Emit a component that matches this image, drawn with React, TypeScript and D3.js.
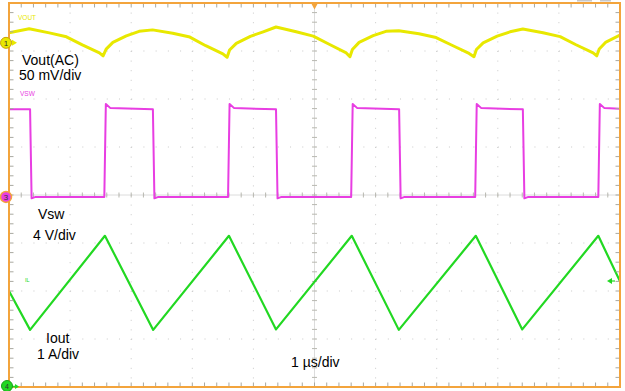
import React from "react";
import * as d3 from "d3";

// ---- Data read from the scope screen ----
// time axis: 1 µs/div, 10 divisions
const timeDomain = [0, 10];

// Vout (AC) in mV, 50 mV/div
const voutT = [
  0, 0.33, 0.66, 0.94, 1.2, 1.48, 1.54, 1.59, 1.7, 1.92, 2.13,
  2.35, 2.68, 2.96, 3.22, 3.5, 3.57, 3.61, 3.72, 3.95, 4.16,
  4.37, 4.7, 4.98, 5.24, 5.52, 5.58, 5.62, 5.73, 5.96, 6.17,
  6.38, 6.71, 6.99, 7.25, 7.53, 7.61, 7.65, 7.76, 7.99, 8.2,
  8.41, 8.74, 9.02, 9.28, 9.56, 9.62, 9.66, 9.77, 10.0,
];
const voutMv = [
  10.4, 14.6, 10.4, 6.3, -2.1, -10.4, -13.5, -6.5, 0.5, 7.3, 12.0,
  13.5, 10.0, 6.0, -3.0, -11.5, -15.0, -7.5, -0.5, 6.8, 11.5,
  16.5, 11.5, 7.0, -1.5, -10.5, -14.5, -7.0, 0.5, 7.5, 12.0,
  12.5, 9.5, 5.5, -2.5, -11.0, -14.5, -7.0, 0.0, 7.0, 11.5,
  14.5, 10.5, 6.5, -2.0, -10.5, -13.5, -6.5, 0.8, 8.0,
];

// Vsw switching node, 4 V/div
const vswFallT = [0.345, 2.355, 4.37, 6.385, 8.41];
const vswRiseT = [1.56, 3.585, 5.6, 7.63, 9.645];
const vswHighStartV = 7.4;
const vswHighEndV = 7.3;
const vswLowV = 0.0;
const vswOvershootV = 7.75;
const vswUndershootV = -0.12;

// Inductor current, 1 A/div
const ilT = [0, 0.345, 1.57, 2.36, 3.6, 4.37, 5.61, 6.38, 7.64, 8.4, 9.645, 10];
const ilA = [2.0, 1.19, 3.15, 1.19, 3.15, 1.2, 3.15, 1.19, 3.15, 1.2, 3.15, 2.2];

// channel settings
const channelNames = ["VOUT", "VSW", "IL"];
const channelPerDiv = [50, 4, 1];
const channelOffsetDiv = [7.17, 3.96, 0];
const channelColors = ["#e8e800", "#e83ee2", "#22d822"];

const labelLines = [
  ["Vout(AC)", "50 mV/div"],
  ["Vsw", "4 V/div"],
  ["Iout", "1 A/div"],
];
const timeLabel = "1 µs/div";

// ---- Layout ----
const W = 625;
const H = 391;
const X0 = 9;
const X1 = 620;
const Y0 = 3;
const Y1 = 387;
const ORANGE = "#f3a43c";

export default function App() {
  const x = d3.scaleLinear().domain(timeDomain).range([X0, X1]);
  const divY = d3.scaleLinear().domain([0, 8]).range([Y1, Y0]);
  const divX = d3.scaleLinear().domain([0, 10]).range([X0, X1]);
  const chScale = (i: number) =>
    d3
      .scaleLinear()
      .domain([-channelOffsetDiv[i] * channelPerDiv[i], (8 - channelOffsetDiv[i]) * channelPerDiv[i]])
      .range([Y1, Y0]);

  const yVout = chScale(0);
  const yVsw = chScale(1);
  const yIl = chScale(2);

  const line = d3.line<[number, number]>();

  const voutPts: [number, number][] = voutT.map((t, i) => [x(t), yVout(voutMv[i])]);

  // build Vsw step trace from edges
  const events = [
    ...vswFallT.map((t) => ({ t, kind: "fall" })),
    ...vswRiseT.map((t) => ({ t, kind: "rise" })),
  ].sort((a, b) => a.t - b.t);
  const vswRaw: [number, number][] = [[0, 7.3]];
  events.forEach((e) => {
    if (e.kind === "fall") {
      vswRaw.push([e.t, vswHighEndV]);
      vswRaw.push([e.t + 0.025, vswUndershootV]);
      vswRaw.push([e.t + 0.09, vswLowV]);
    } else {
      vswRaw.push([e.t, vswLowV]);
      vswRaw.push([e.t + 0.025, vswOvershootV]);
      vswRaw.push([e.t + 0.1, vswHighStartV]);
    }
  });
  vswRaw.push([10, vswHighStartV - 0.05]);
  const vswPts: [number, number][] = vswRaw.map(([t, v]) => [x(t), yVsw(v)]);

  const ilPts: [number, number][] = ilT.map((t, i) => [x(t), yIl(ilA[i])]);

  const majorX = d3.range(0, 11);
  const majorY = d3.range(0, 9);
  const minorX = d3.range(0, 50.001, 1).map((k) => k / 5);
  const minorY = d3.range(0, 40.001, 1).map((k) => k / 5);

  const cx = divX(5);
  const cy = divY(4);

  const markerY = [yVout(0), yVsw(0), yIl(0)];

  return (
    <svg
      width={W}
      height={H}
      style={{ position: "absolute", left: 0, top: 0, background: "#fff" }}
      fontFamily="'Liberation Sans', Arial, sans-serif"
    >
      <defs>
        <clipPath id="plot">
          <rect x={X0} y={Y0} width={X1 - X0} height={Y1 - Y0} />
        </clipPath>
      </defs>
      <rect x={0} y={0} width={W} height={H} fill="#fff" />

      {/* top-right fragments */}
      <rect x={577} y={0} width={15} height={1.5} fill="#c8c8c8" />
      <rect x={600} y={0} width={11} height={1.5} fill="#c8c8c8" />

      {/* dotted grid */}
      {majorX.slice(1, -1).map((d) => (
        <line
          key={"gx" + d}
          x1={divX(d)}
          x2={divX(d)}
          y1={Y0}
          y2={Y1}
          stroke="#c9c9c9"
          strokeWidth={1}
          strokeDasharray={`1 ${48 / 5 - 1}`}
        />
      ))}
      {majorY.slice(1, -1).map((d) => (
        <line
          key={"gy" + d}
          x1={X0}
          x2={X1}
          y1={divY(d)}
          y2={divY(d)}
          stroke="#c9c9c9"
          strokeWidth={1}
          strokeDasharray={`1 ${61.1 / 5 - 1}`}
        />
      ))}

      {/* center cross */}
      <line x1={cx} x2={cx} y1={Y0} y2={Y1} stroke="#dcdcdc" strokeWidth={1} />
      <line x1={X0} x2={X1} y1={cy} y2={cy} stroke="#dcdcdc" strokeWidth={1} />
      {minorY.map((d) => (
        <line key={"cty" + d} x1={cx - 2.5} x2={cx + 2.5} y1={divY(d)} y2={divY(d)} stroke="#b8b8b0" strokeWidth={1} />
      ))}
      {minorX.map((d) => (
        <line key={"ctx" + d} x1={divX(d)} x2={divX(d)} y1={cy - 2.5} y2={cy + 2.5} stroke="#b8b8b0" strokeWidth={1} />
      ))}

      {/* traces */}
      <g clipPath="url(#plot)" fill="none" strokeLinejoin="round">
        <path d={line(ilPts) || ""} stroke={channelColors[2]} strokeWidth={2.2} />
        <path d={line(vswPts) || ""} stroke={channelColors[1]} strokeWidth={2} />
        <path d={line(voutPts) || ""} stroke={channelColors[0]} strokeWidth={3} />
      </g>

      {/* frame ticks */}
      {minorX.map((d) => (
        <g key={"fx" + d}>
          <line x1={divX(d)} x2={divX(d)} y1={Y1} y2={Y1 - 4.5} stroke="#a8a8a0" strokeWidth={1} />
          <line x1={divX(d)} x2={divX(d)} y1={Y0} y2={Y0 + 4.5} stroke="#a8a8a0" strokeWidth={1} />
        </g>
      ))}
      {minorY.map((d) => (
        <g key={"fy" + d}>
          <line x1={X0} x2={X0 + 4.5} y1={divY(d)} y2={divY(d)} stroke="#a8a8a0" strokeWidth={1} />
          <line x1={X1} x2={X1 - 4.5} y1={divY(d)} y2={divY(d)} stroke="#a8a8a0" strokeWidth={1} />
        </g>
      ))}

      {/* frame */}
      <rect x={X0} y={Y0} width={X1 - X0} height={Y1 - Y0} fill="none" stroke={ORANGE} strokeWidth={2} />

      {/* trigger marker */}
      <path d={`M${cx - 3.5},${Y0} L${cx + 3.5},${Y0} L${cx},${Y0 + 6.5} Z`} fill={ORANGE} />

      {/* channel ground markers */}
      <g>
        <path d={`M12,${markerY[0] - 3} L17,${markerY[0]} L12,${markerY[0] + 3} Z`} fill={channelColors[0]} />
        <circle cx={6} cy={markerY[0]} r={5.5} fill={channelColors[0]} stroke="#c9a400" strokeWidth={1} />
        <text x={6} y={markerY[0] + 3} fontSize={8} textAnchor="middle" fill="#333">1</text>

        <circle cx={6} cy={markerY[1]} r={5.5} fill={channelColors[1]} stroke={ORANGE} strokeWidth={1.5} />
        <text x={6} y={markerY[1] + 3} fontSize={8} textAnchor="middle" fill="#333">3</text>

        <path d={`M11,${markerY[2] - 0.5} L16,${markerY[2] - 0.5}`} stroke={channelColors[2]} strokeWidth={1.5} />
        <path d={`M15,${markerY[2] - 3} L19,${markerY[2] - 0.5} L15,${markerY[2] + 2} Z`} fill={channelColors[2]} />
        <circle cx={7} cy={markerY[2] - 1} r={5.5} fill={channelColors[2]} stroke="#1aa01a" strokeWidth={1} />
        <text x={7} y={markerY[2] + 2} fontSize={7} textAnchor="middle" fill="#333">4</text>

        <path d={`M607,281 L612,278 L612,284 Z`} fill={channelColors[2]} />
        <line x1={611} x2={615} y1={281} y2={281} stroke={channelColors[2]} strokeWidth={1.2} />
      </g>

      {/* small channel names */}
      <text x={18} y={20} fontSize={6.5} fill={channelColors[0]}>{channelNames[0]}</text>
      <text x={20} y={96} fontSize={6.5} fill={channelColors[1]}>{channelNames[1]}</text>
      <text x={25} y={282} fontSize={5.5} fill={channelColors[2]}>{channelNames[2]}</text>

      {/* labels */}
      <g fontSize={14} fill="#000">
        <text x={22} y={64.5}>{labelLines[0][0]}</text>
        <text x={19} y={80}>{labelLines[0][1]}</text>
        <text x={38} y={219}>{labelLines[1][0]}</text>
        <text x={33} y={240}>{labelLines[1][1]}</text>
        <text x={46} y={343}>{labelLines[2][0]}</text>
        <text x={37} y={359}>{labelLines[2][1]}</text>
        <text x={291} y={367}>{timeLabel}</text>
      </g>
    </svg>
  );
}
